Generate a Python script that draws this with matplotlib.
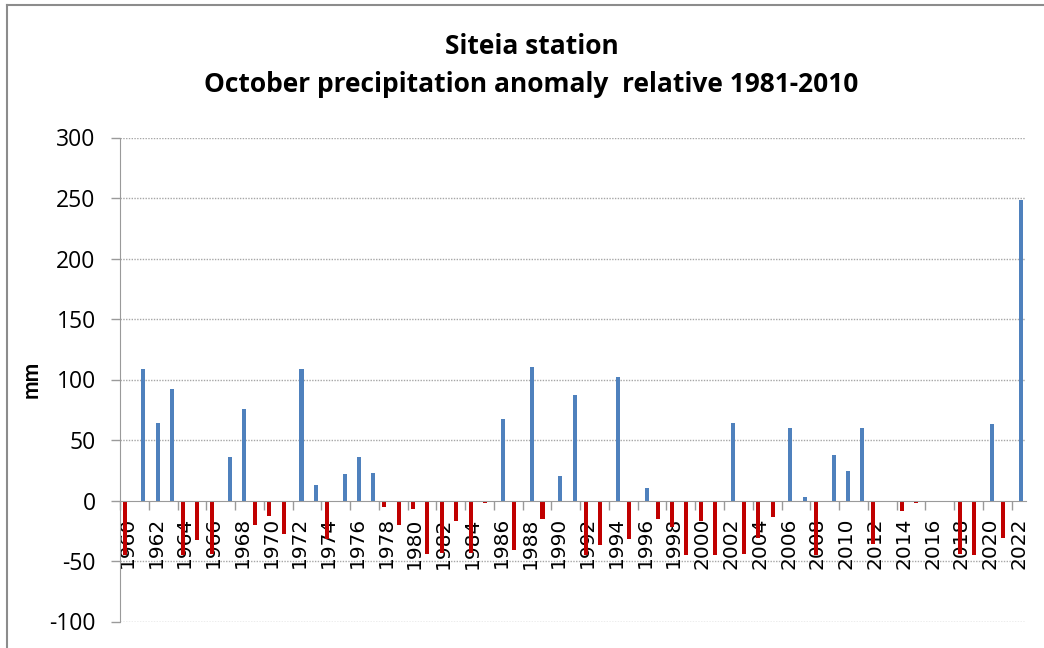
import matplotlib
matplotlib.use("Agg")
import matplotlib.pyplot as plt
from matplotlib.lines import Line2D
import numpy as np

# October precipitation anomaly (mm) at Siteia, relative to 1981-2010
years = list(range(1960, 2023))
anomaly = [
    -45, 109, 64, 92, -45, -33, -44, 36, 76, -20,
    -13, -28, 109, 13, -32, 22, 36, 23, -5, -20,
    -7, -44, -43, -17, -43, -2, 67, -41, 110, -15,
    20, 87, -45, -37, 102, -32, 10, -15, -22, -45,
    -17, -45, 64, -44, -31, -14, 60, 3, -45, 38,
    24, 60, -36, 0, -9, -2, 0, 0, -44, -45,
    63, -31, 248,
]
yticks = [-100, -50, 0, 50, 100, 150, 200, 250, 300]

anomaly = np.array(anomaly, dtype=float)
above = np.where(anomaly > 0, anomaly, 0)
below = np.where(anomaly < 0, anomaly, 0)
x = np.arange(len(years))

fig = plt.figure(figsize=(10.44, 6.48), dpi=100)
ax = fig.add_axes([120 / 1044, 1 - 621.5 / 648, 906 / 1044, 484 / 648])

ax.bar(x - 0.12, below, width=0.28, color="#C00000", zorder=3)
ax.bar(x + 0.12, above, width=0.28, color="#4F81BD", zorder=3)

ax.set_xlim(-0.5, len(years) - 0.5)
ax.set_ylim(-100, 300)
ax.set_yticks(yticks)
ax.set_yticklabels([str(v) for v in yticks])
ax.tick_params(axis="y", length=6.5, width=1, color="#9a9a9a", pad=11, labelsize=16.5)

# year labels every other year, tick marks on category boundaries
ax.set_xticks(x[::2])
ax.set_xticklabels([str(y) for y in years[::2]])
ax.set_xticks(x[::2] - 0.5, minor=True)
ax.tick_params(axis="x", which="major", length=0, pad=12, labelrotation=90, labelsize=14.5)
ax.tick_params(axis="x", which="minor", length=6.5, width=1, color="#9a9a9a")

for s in ["top", "right"]:
    ax.spines[s].set_visible(False)
ax.spines["bottom"].set_position(("data", 0))
ax.spines["bottom"].set_color("#9a9a9a")
ax.spines["left"].set_color("#9a9a9a")
ax.spines["bottom"].set_zorder(4)

for v in yticks:
    if v != 0:
        ax.axhline(v, color="#a6a6a6", lw=1, ls=(0, (1, 1)), zorder=1)

ax.set_ylabel("mm", fontfamily="Lato", fontweight="bold", fontsize=16)
ax.yaxis.set_label_coords(-78 / 906, 0.5)

fig.text(0.509, 1 - 47 / 648, "Siteia station", ha="center", va="center",
         fontfamily="Open Sans", fontweight="bold", fontsize=19)
fig.text(0.509, 1 - 85 / 648, "October precipitation anomaly  relative 1981-2010",
         ha="center", va="center", fontfamily="Open Sans", fontweight="bold", fontsize=19)

# chart frame
fig.add_artist(Line2D([7 / 1044, 7 / 1044], [0, 1 - 5 / 648], color="#8c8c8c", lw=1.5))
fig.add_artist(Line2D([7 / 1044, 1], [1 - 5 / 648, 1 - 5 / 648], color="#8c8c8c", lw=1.5))

plt.setp(ax.get_yticklabels(), fontfamily="Open Sans")
plt.setp(ax.get_xticklabels(), fontfamily="DejaVu Sans")

fig.savefig("out.png", dpi=100)
